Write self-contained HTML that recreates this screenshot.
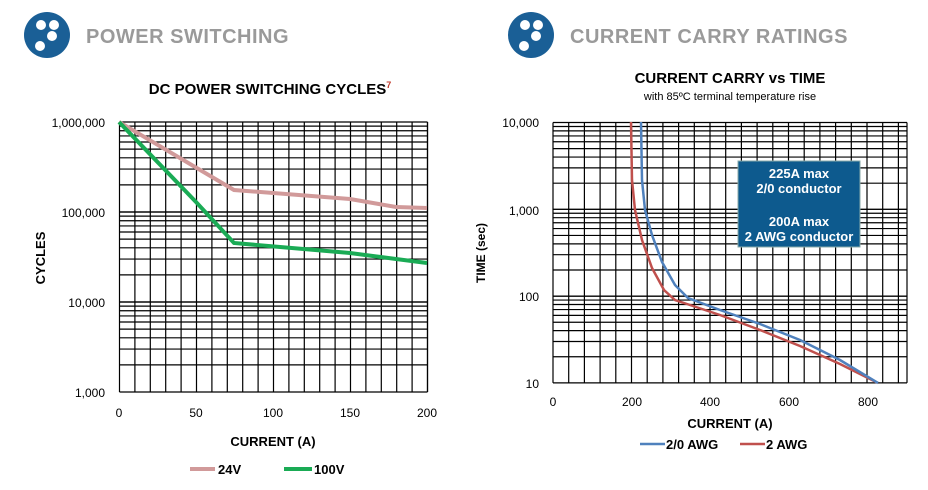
<!DOCTYPE html>
<html><head><meta charset="utf-8"><style>
body{margin:0;background:#fff;width:928px;height:490px;overflow:hidden}
svg{display:block;font-family:"Liberation Sans",Arial,sans-serif}
</style></head><body>
<svg id="s" width="928" height="490" viewBox="0 0 928 490">
<circle cx="47" cy="35" r="23" fill="#1a5f96"/>
<circle cx="41" cy="25" r="5" fill="#fff"/><circle cx="54" cy="25" r="5" fill="#fff"/>
<circle cx="52" cy="36" r="5" fill="#fff"/><circle cx="40" cy="46" r="5" fill="#fff"/>
<text x="86" y="43" font-size="20" font-weight="bold" fill="#9a9a9a" letter-spacing="0.5">POWER SWITCHING</text>
<circle cx="531" cy="35" r="23" fill="#1a5f96"/>
<circle cx="525" cy="25" r="5" fill="#fff"/><circle cx="538" cy="25" r="5" fill="#fff"/>
<circle cx="536" cy="36" r="5" fill="#fff"/><circle cx="524" cy="46" r="5" fill="#fff"/>
<text x="570" y="43" font-size="20" font-weight="bold" fill="#9a9a9a" letter-spacing="0.5">CURRENT CARRY RATINGS</text>

<text x="270" y="94" font-size="15" font-weight="bold" text-anchor="middle">DC POWER SWITCHING CYCLES<tspan font-size="9" fill="#c0392b" dy="-6">7</tspan></text>
<text x="730" y="83" font-size="15" font-weight="bold" text-anchor="middle">CURRENT CARRY vs TIME</text>
<text x="730" y="100" font-size="11" text-anchor="middle">with 85ºC terminal temperature rise</text>

<g id="g1" stroke="#000" stroke-width="1.2"></g>
<g id="g2" stroke="#000" stroke-width="1.2"></g>

<g font-size="12" text-anchor="end">
<text x="105" y="127">1,000,000</text><text x="105" y="217">100,000</text>
<text x="105" y="307">10,000</text><text x="105" y="397">1,000</text>
<text x="539" y="127">10,000</text><text x="539" y="215">1,000</text>
<text x="539" y="301">100</text><text x="539" y="388">10</text>
</g>
<g font-size="12" text-anchor="middle">
<text x="119" y="417">0</text><text x="196" y="417">50</text><text x="273" y="417">100</text><text x="350" y="417">150</text><text x="427" y="417">200</text>
<text x="553" y="406">0</text><text x="632" y="406">200</text><text x="710" y="406">400</text><text x="789" y="406">600</text><text x="868" y="406">800</text>
</g>
<text x="273" y="446" font-size="13" font-weight="bold" text-anchor="middle">CURRENT (A)</text>
<text x="730" y="428" font-size="13" font-weight="bold" text-anchor="middle">CURRENT (A)</text>
<text transform="translate(45,258) rotate(-90)" font-size="13" font-weight="bold" text-anchor="middle">CYCLES</text>
<text transform="translate(485,253) rotate(-90)" font-size="12" font-weight="bold" text-anchor="middle">TIME (sec)</text>

<polyline fill="none" stroke="#d19a9a" stroke-width="4" points="119,122 234,190 350,199 396,207 427,208"/>
<polyline fill="none" stroke="#1aab55" stroke-width="4" points="119,122 196,202 234,243 350,253 396,259 427,263"/>

<rect x="738" y="161" width="122" height="86" fill="#0d5a8e" stroke="#8aa" stroke-width="1"/>
<g fill="#fff" font-size="13" font-weight="bold" text-anchor="middle">
<text x="799" y="178">225A max</text><text x="799" y="193">2/0 conductor</text>
<text x="799" y="226">200A max</text><text x="799" y="241">2 AWG conductor</text>
</g>
<polyline fill="none" stroke="#c0504d" stroke-width="2.5" points="631,122 632,180 635,210 642,240 652,268 664,290 675,300 690,305 720,315 760,330 800,346 840,364 878,383"/>
<polyline fill="none" stroke="#4f81bd" stroke-width="2.5" points="641,122 642,180 645,210 652,235 662,262 675,285 688,298 720,310 760,324 800,340 840,360 878,383"/>

<line x1="190" y1="469" x2="215" y2="469" stroke="#d19a9a" stroke-width="4"/>
<text x="218" y="474" font-size="13" font-weight="bold">24V</text>
<line x1="284" y1="469" x2="312" y2="469" stroke="#1aab55" stroke-width="4"/>
<text x="314" y="474" font-size="13" font-weight="bold">100V</text>
<line x1="640" y1="444" x2="665" y2="444" stroke="#4f81bd" stroke-width="2.5"/>
<text x="666" y="449" font-size="13" font-weight="bold">2/0 AWG</text>
<line x1="740" y1="444" x2="765" y2="444" stroke="#c0504d" stroke-width="2.5"/>
<text x="766" y="449" font-size="13" font-weight="bold">2 AWG</text>
</svg>
<script>
function grid(id,x0,x1,dx,y0,dec,n){
 var g=document.getElementById(id),h='';
 for(var x=x0;x<=x1+0.5;x+=dx)h+='<line x1="'+x+'" y1="'+y0+'" x2="'+x+'" y2="'+(y0+dec*n)+'"/>';
 h+='<line x1="'+x1+'" y1="'+y0+'" x2="'+x1+'" y2="'+(y0+dec*n)+'"/>';
 for(var d=0;d<n;d++){for(var k=1;k<=10;k++){var y=y0+dec*(d+1)-dec*Math.log10(k);
  h+='<line x1="'+x0+'" y1="'+y+'" x2="'+x1+'" y2="'+y+'"/>';}}
 g.innerHTML=h;
}
grid('g1',119.5,427.5,15.4,122,90,3);
grid('g2',553,907,15.7,122.5,86.8,3);
</script>
</body></html>
